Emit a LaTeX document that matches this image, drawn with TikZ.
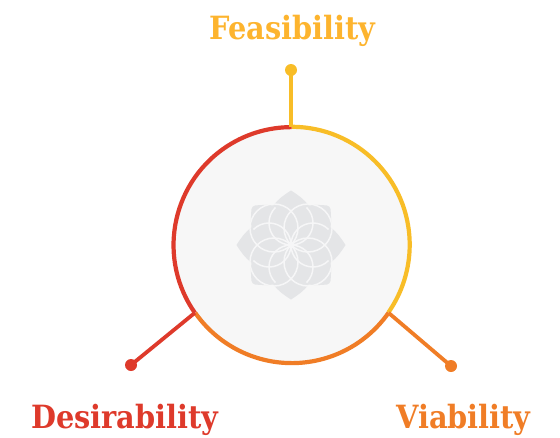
\documentclass[tikz,border=0pt]{standalone}
\usepackage{fontspec}
\definecolor{cY}{HTML}{F8BD27}
\definecolor{cO}{HTML}{F07D26}
\definecolor{cR}{HTML}{DE3A2B}
\definecolor{cYt}{HTML}{FDB42E}
\definecolor{cFl}{HTML}{E4E5E7}
\definecolor{cLn}{HTML}{F6F6F7}
\tikzset{
 wire/.style={line width=3.8pt,line cap=butt},
 ringarc/.style={line width=4.2pt,line cap=butt},
 tipdot/.style={circle,inner sep=0pt,minimum size=12pt},
 lbl/.style={inner sep=0pt,font=\fontspec{DejaVu Serif Condensed Bold}\fontsize{32}{32}\selectfont,anchor=base},
 hubdisc/.style={circle,inner sep=0pt,minimum size=236pt,fill=black!3},
 loopline/.style={cLn,line width=1.5pt}
}
\begin{document}
\begin{tikzpicture}[x=1pt,y=-1pt]
\useasboundingbox (0,0) rectangle (560,437);
\node[hubdisc] (hub) at (291.7,245) {};
% flower
\begin{scope}[shift={(291,245)}]
 \def\flowerpath{(0,-54.5)
  .. controls (-7,-50) and (-13,-46) .. (-17.5,-39.5)
  .. controls (-24,-40.5) and (-31,-40) .. (-36,-39.5)
  .. controls (-38,-39) and (-39,-38) .. (-39.5,-36)
  .. controls (-40,-31) and (-40.5,-24) .. (-39.5,-17.5)
  .. controls (-46,-13) and (-50,-7) .. (-54.5,0)
  .. controls (-50,7) and (-46,13) .. (-39.5,17.5)
  .. controls (-40.5,24) and (-40,31) .. (-39.5,36)
  .. controls (-39,38) and (-38,39) .. (-36,39.5)
  .. controls (-31,40) and (-24,40.5) .. (-17.5,39.5)
  .. controls (-13,46) and (-7,50) .. (0,54.5)
  .. controls (7,50) and (13,46) .. (17.5,39.5)
  .. controls (24,40.5) and (31,40) .. (36,39.5)
  .. controls (38,39) and (39,38) .. (39.5,36)
  .. controls (40,31) and (40.5,24) .. (39.5,17.5)
  .. controls (46,13) and (50,7) .. (54.5,0)
  .. controls (50,-7) and (46,-13) .. (39.5,-17.5)
  .. controls (40.5,-24) and (40,-31) .. (39.5,-36)
  .. controls (39,-38) and (38,-39) .. (36,-39.5)
  .. controls (31,-40) and (24,-40.5) .. (17.5,-39.5)
  .. controls (13,-46) and (7,-50) .. (0,-54.5) -- cycle}
 \fill[cFl] \flowerpath;
 \begin{scope}
  \clip \flowerpath;
  \foreach \a in {0,90,180,270}{
   \draw[loopline,rotate=\a] ([shift={(315:22)}]0,-22) arc[start angle=315,end angle=585,radius=22];
   \draw[loopline,rotate=\a] (-17,-17) circle[radius=24];
  }
 \end{scope}
\end{scope}
% ring
\draw[ringarc,cY] (hub.90) arc[start angle=-90,end angle=35,radius=118];
\draw[ringarc,cO] (hub.-35) arc[start angle=35,end angle=145,radius=118];
\draw[ringarc,cR] (hub.-145) arc[start angle=145,end angle=270,radius=118];
% dots & wires
\node[tipdot,fill=cY] (dF) at (291,70) {};
\node[tipdot,fill=cR] (dD) at (131,365) {};
\node[tipdot,fill=cO] (dV) at (451,366) {};
\draw[wire,cY] (dF.center) -- (dF.center |- hub.north);
\draw[wire,cR] (dD.center) -- (hub.-145);
\draw[wire,cO] (dV.center) -- (hub.-35);
% labels
\node[lbl,text=cYt] (tF) at (292.5,39.5) {Feasibility};
\node[lbl,text=cR] (tD) at (125,428) {Desirability};
\node[lbl,text=cO] (tV) at (463.5,428) {Viability};
\end{tikzpicture}
\end{document}
